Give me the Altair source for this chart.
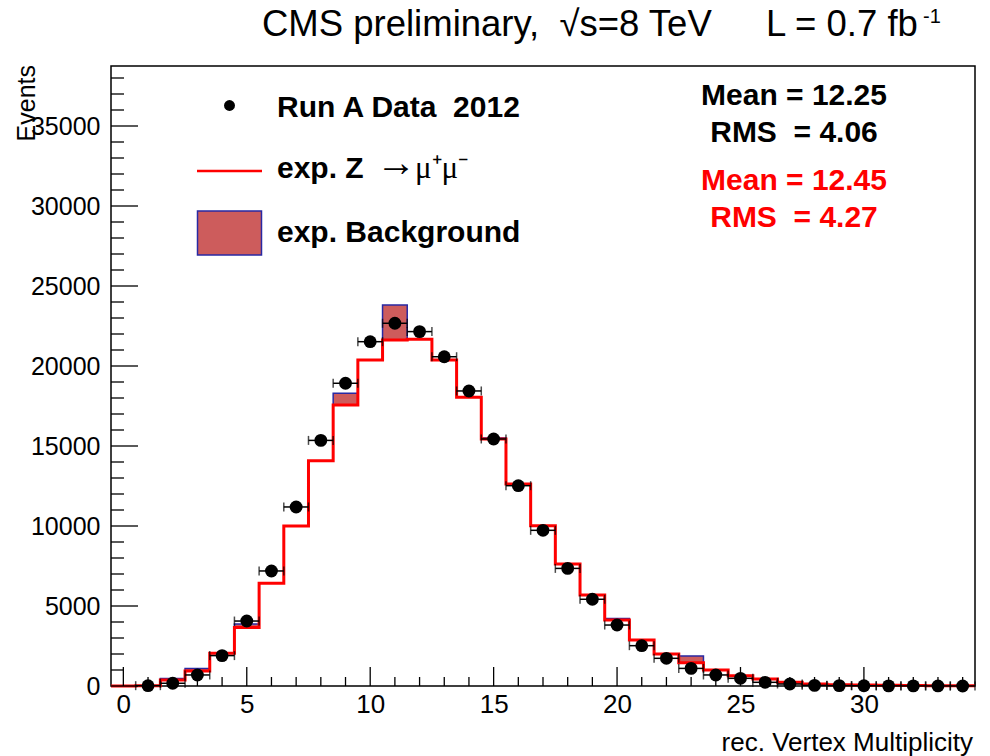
import altair as alt
import pandas as pd

# Reconstructed primary-vertex multiplicity, one bin per integer value
bins = list(range(0, 35))

# Expected Z -> mu mu (red histogram)
z_counts = [0, 20, 375, 940, 2040, 3650, 6420, 10000, 14080, 17560, 20375,
            21625, 21670, 20375, 18040, 15440, 12625, 10020, 7625, 5690, 4125,
            2875, 2000, 1460, 1000, 645, 440, 230, 125, 80, 60, 40, 30, 20, 10]

# Expected background, stacked on top of the Z expectation
bkg_counts = [0, 0, 100, 150, 40, 220, 0, 0, 0, 730, 0,
              2190, 0, 0, 0, 60, 0, 0, 0, 0, 100,
              0, 0, 420, 0, 0, 0, 0, 0, 0, 0, 0, 0, 0, 0]

# Run A 2012 data
data_bins = list(range(1, 35))
data_counts = [20, 170, 690, 1900, 4060, 7190, 11190, 15350, 18920, 21520,
               22670, 22150, 20580, 18440, 15440, 12520, 9730, 7350, 5420,
               3810, 2520, 1730, 1100, 690, 480, 230, 125, 40, 25, 15, 10, 6,
               4, 2]

# Axis tick positions
x_major = [0, 5, 10, 15, 20, 25, 30]
x_minor = [v for v in range(1, 35) if v % 5 != 0]
y_major = [0, 5000, 10000, 15000, 20000, 25000, 30000, 35000]
y_minor = [v for v in range(1000, 39000, 1000) if v % 5000 != 0]

SANS = "Liberation Sans"
SERIF = "Liberation Serif"
W, H = 864, 620

hist = pd.DataFrame({
    "lo": [b - 0.5 for b in bins],
    "hi": [b + 0.5 for b in bins],
    "z": z_counts,
    "bkg": bkg_counts,
})
hist["tot"] = hist["z"] + hist["bkg"]
bkg_table = hist[hist["bkg"] > 0]

step = pd.DataFrame({
    "edge": [b - 0.5 for b in bins] + [bins[-1] + 0.5],
    "z": z_counts + [z_counts[-1]],
})

pts = pd.DataFrame({
    "bin": data_bins,
    "lo": [b - 0.5 for b in data_bins],
    "hi": [b + 0.5 for b in data_bins],
    "n": data_counts,
})

xs = alt.Scale(domain=[-0.5, 34.5], nice=False, zero=False)
ys = alt.Scale(domain=[0, 38750], nice=False, zero=False)

xaxis = alt.Axis(values=x_major, ticks=False, domain=False, grid=False,
                 labelFont=SANS, labelFontSize=26, labelColor="black",
                 labelPadding=5, format="d", title=None)
yaxis = alt.Axis(values=y_major, ticks=False, domain=False, grid=False,
                 labelFont=SANS, labelFontSize=25, labelColor="black",
                 labelPadding=11, format="d", title=None)


def X(field):
    return alt.X(f"{field}:Q", scale=xs, axis=xaxis)


def Y(field):
    return alt.Y(f"{field}:Q", scale=ys, axis=yaxis)


bkg_band = alt.Chart(bkg_table).mark_rect(
    fill="#cd5c5c", stroke="#2929a3", strokeWidth=1.5
).encode(x=X("lo"), x2="hi", y=Y("z"), y2="tot")

z_line = alt.Chart(step).mark_line(
    interpolate="step-after", color="#ff0000", strokeWidth=3
).encode(x=X("edge"), y=Y("z"))

err_h = alt.Chart(pts).mark_rule(color="black", strokeWidth=1.5).encode(
    x=X("lo"), x2="hi", y=Y("n"))
cap_lo = alt.Chart(pts).mark_tick(
    orient="vertical", size=9, thickness=1.5, color="black"
).encode(x=X("lo"), y=Y("n"))
cap_hi = alt.Chart(pts).mark_tick(
    orient="vertical", size=9, thickness=1.5, color="black"
).encode(x=X("hi"), y=Y("n"))
markers = alt.Chart(pts).mark_circle(size=165, color="black", opacity=1).encode(
    x=X("bin"), y=Y("n"))

# Inward-pointing frame ticks
def y_ticks(values, length):
    return alt.Chart(pd.DataFrame({"v": values})).mark_rule(
        color="black", strokeWidth=1.3
    ).encode(x=alt.value(0), x2=alt.value(length), y=Y("v"))


def x_ticks(values, length):
    return alt.Chart(pd.DataFrame({"v": values})).mark_rule(
        color="black", strokeWidth=1.3
    ).encode(x=X("v"), y=alt.value(H), y2=alt.value(H - length))


one = pd.DataFrame({"k": [0]})


def label(txt, x, y, size, weight="normal", color="black", align="left",
          font=SANS, angle=0, baseline="alphabetic"):
    return alt.Chart(one).mark_text(
        text=txt, align=align, baseline=baseline, fontSize=size,
        fontWeight=weight, color=color, font=font, angle=angle
    ).encode(x=alt.value(x), y=alt.value(y))


texts = [
    # header
    label("CMS preliminary,\u00a0\u00a0\u221as=8 TeV", 151, -30, 36.5),
    label("L = 0.7 fb", 655, -30, 36.5),
    label("-1", 812, -43, 20),
    # axis titles
    label("Events", -76, -1, 25, align="right", angle=270),
    label("rec. Vertex Multiplicity", 862, 685, 26, align="right"),
    # statistics boxes
    label("Mean = 12.25", 683, 39, 30, weight="bold", align="center"),
    label("RMS\u00a0 = 4.06", 683, 76, 30, weight="bold", align="center"),
    label("Mean = 12.45", 683, 124, 30, weight="bold", color="#ff0000",
          align="center"),
    label("RMS\u00a0 = 4.27", 683, 161, 30, weight="bold", color="#ff0000",
          align="center"),
    # legend entries
    label("Run A Data\u00a0 2012", 166, 51, 30, weight="bold"),
    label("exp. Z", 166, 112, 30, weight="bold"),
    label("\u2192", 265, 110, 40, font=SERIF),
    label("\u03bc\u207a\u03bc\u207b", 304, 112, 31, font=SERIF),
    label("exp. Background", 166, 176, 30, weight="bold"),
]

legend_dot = alt.Chart(one).mark_circle(size=120, color="black", opacity=1).encode(
    x=alt.value(118.5), y=alt.value(39.5))
legend_line = alt.Chart(one).mark_rule(color="#ff0000", strokeWidth=2.5).encode(
    x=alt.value(86), x2=alt.value(151), y=alt.value(105))
legend_box = alt.Chart(one).mark_rect(
    fill="#cd5c5c", stroke="#2929a3", strokeWidth=1.5
).encode(x=alt.value(86.5), x2=alt.value(150.5), y=alt.value(145),
         y2=alt.value(189))

chart = alt.layer(
    bkg_band, z_line, err_h, cap_lo, cap_hi, markers,
    y_ticks(y_major, 27), y_ticks(y_minor, 13),
    x_ticks(x_major, 19), x_ticks(x_minor, 9),
    legend_dot, legend_line, legend_box,
    *texts,
).properties(
    width=W, height=H,
    padding={"left": 111, "top": 66, "right": 15, "bottom": 70},
    autosize=alt.AutoSizeParams(type="none"),
    background="white",
).configure_view(stroke="black", strokeWidth=1.5)

chart.save("out.html", embed_options={"renderer": "svg", "actions": False})
